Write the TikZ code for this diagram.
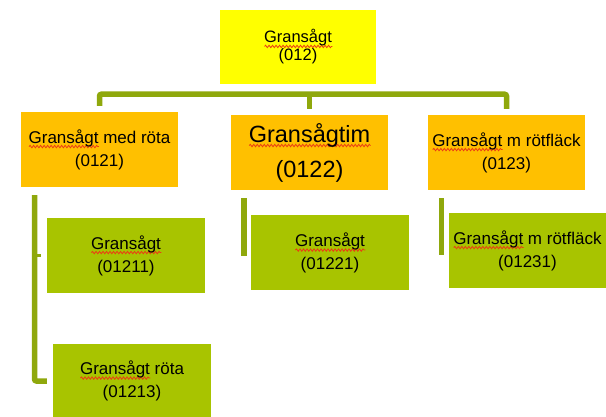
\documentclass[tikz,border=0pt]{standalone}
\usepackage{fontspec}
\setmainfont{Liberation Sans}
\usetikzlibrary{decorations.pathmorphing}
\definecolor{baryellow}{RGB}{255,255,0}
\definecolor{barorange}{RGB}{255,192,0}
\definecolor{leafgreen}{RGB}{168,196,0}
\definecolor{barolive}{RGB}{143,168,12}
\definecolor{spellred}{RGB}{235,60,20}
\newsavebox{\spellbox}
\newcommand{\spell}[1]{\sbox{\spellbox}{#1}\rlap{\tikz[x=1pt, y=1pt, baseline=3.5pt]\draw[spellred, line width=0.8pt, decorate, decoration={snake, amplitude=1.2pt, segment length=3.5pt}] (0,0) -- (\the\wd\spellbox,0);}\usebox{\spellbox}}

\begin{document}
\begin{tikzpicture}[x=1pt, y=-1pt,
    rootbox/.style={rectangle, inner sep=0pt, minimum width=156, minimum height=74, align=center, fill=baryellow, font=\fontsize{16.5}{18}\selectfont},
    midbox/.style={rectangle, inner sep=0pt, minimum width=157, minimum height=75, align=center, fill=barorange, font=\fontsize{17}{23}\selectfont},
    leafbox/.style={rectangle, inner sep=0pt, minimum width=158, minimum height=75, align=center, fill=leafgreen, font=\fontsize{17}{23}\selectfont},
    conn/.style={draw=barolive, line width=5.5pt, rounded corners=2pt}
]
\useasboundingbox (0,0) rectangle (606,417);

% Top level
\node[rootbox] (root) at (298,47) {\spell{Gransågt}\\(012)};

% Second level
\node[midbox] (rota) at (99.5,149.5) {\spell{Gransågt} med röta\\(0121)};
\node[midbox, font=\fontsize{23.5}{35}\selectfont] (tim) at (309.5,152.5) {\spell{Gransågtim}\\(0122)};
\node[midbox] (flack) at (506.5,152.5) {\spell{Gransågt} m rötfläck\\(0123)};

% Third level
\node[leafbox] (rota1) at (126,255.5) {\spell{Gransågt}\\(01211)};
\node[leafbox] (rota3) at (132,381) {\spell{Gransågt} röta\\(01213)};
\node[leafbox] (tim1) at (330,253) {\spell{Gransågt}\\(01221)};
\node[leafbox] (flack1) at (527.5,250.5) {\spell{Gransågt} m rötfläck\\(01231)};

% Connectors - top to second level
\coordinate (bar) at ([yshift=-10pt]root.south);
\draw[conn] ([yshift=6pt]rota.north) |- (bar) -| ([yshift=6pt]flack.north);
\draw[conn] (bar -| tim.north) -- ([yshift=6pt]tim.north);

% Connectors - second to third level
\coordinate (rotatrunk) at ([xshift=-65pt, yshift=-8pt]rota.south);
\draw[conn] (rotatrunk) |- ([xshift=-6pt]rota3.west);
\draw[conn, line width=3pt] (rotatrunk |- rota1.west) -- ([xshift=-6pt]rota1.west);
\draw[conn] (tim1.west |- tim.south) ++(-7,8) -- ++(0,58);
\draw[conn] (flack1.west |- flack.south) ++(-7,8) -- ++(0,57);

\end{tikzpicture}
\end{document}
